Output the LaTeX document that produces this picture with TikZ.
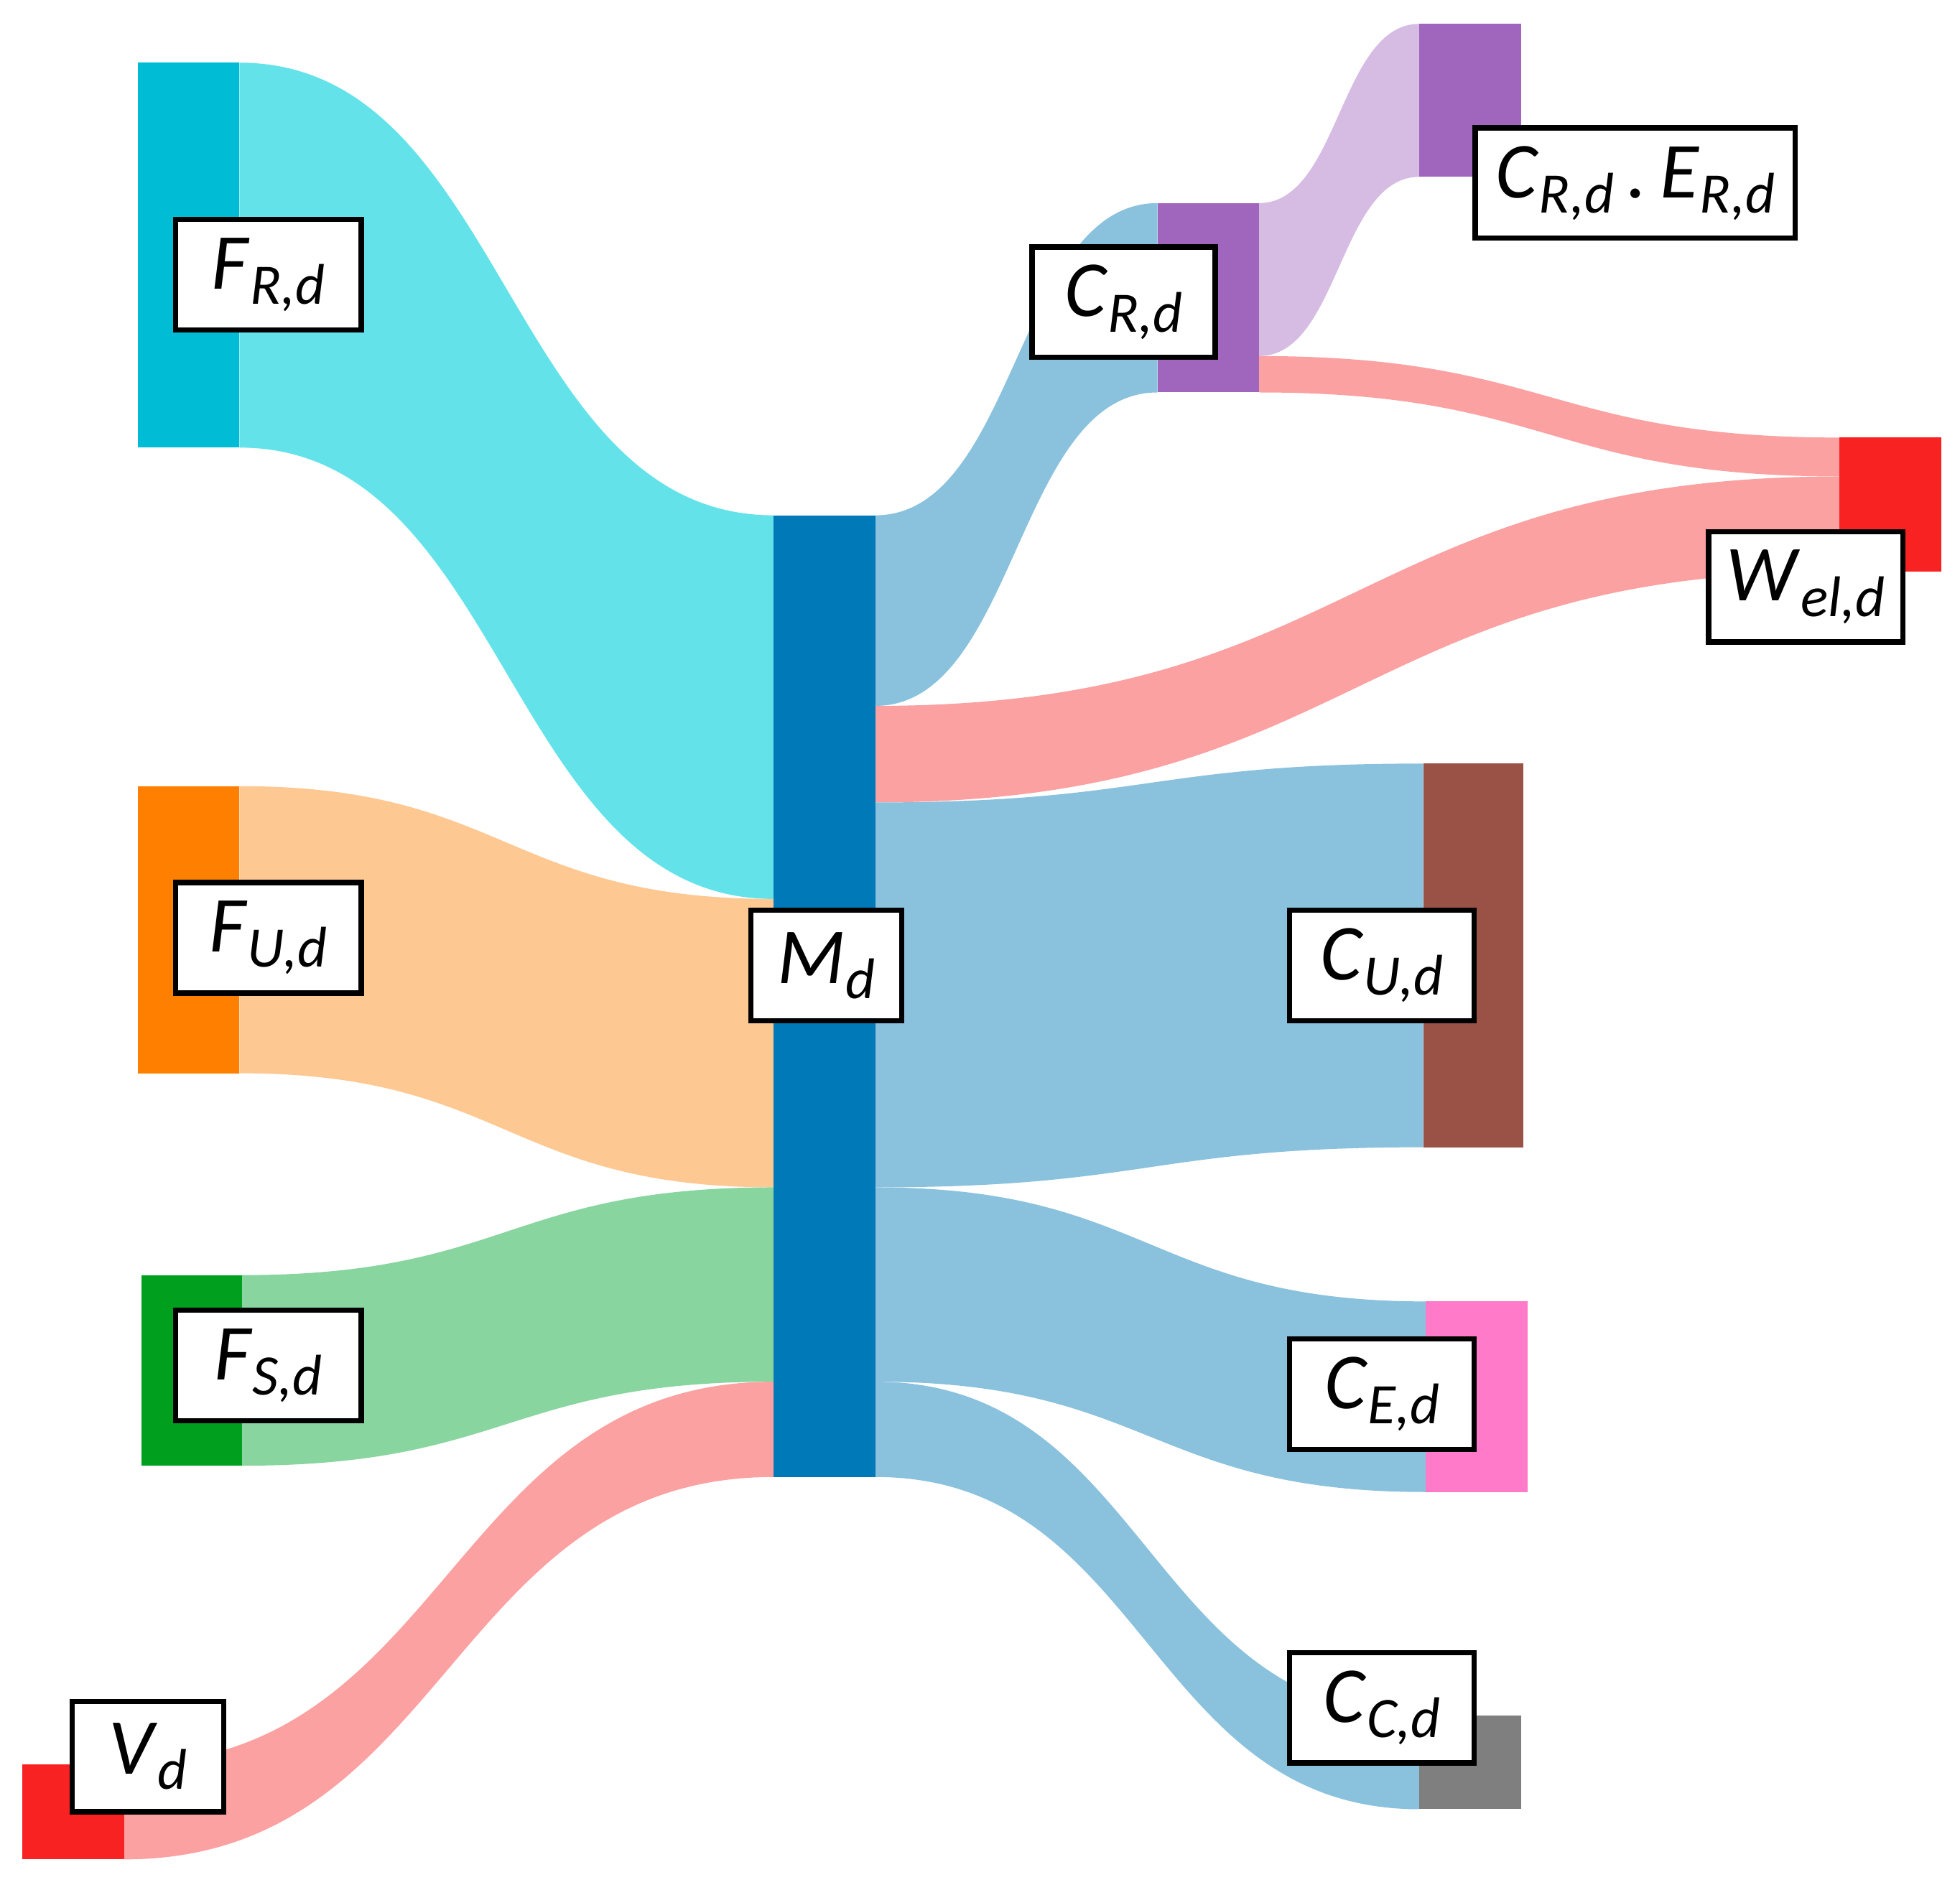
\documentclass[tikz,border=0pt]{standalone}
\usepackage{fontspec}
\setmainfont{Carlito}
\definecolor{cyanbar}{HTML}{00BCD4}\definecolor{cyanflow}{HTML}{63E3E9}
\definecolor{orangebar}{HTML}{FF8000}\definecolor{orangeflow}{HTML}{FEC893}
\definecolor{greenbar}{HTML}{00A01E}\definecolor{greenflow}{HTML}{88D5A0}
\definecolor{redbar}{HTML}{F82222}\definecolor{redflow}{HTML}{FCA1A1}
\definecolor{bluebar}{HTML}{0079B8}\definecolor{blueflow}{HTML}{8AC2DE}
\definecolor{purplebar}{HTML}{A066BE}\definecolor{purpleflow}{HTML}{D6BCE3}
\definecolor{brownbar}{HTML}{9B5246}\definecolor{pinkbar}{HTML}{FF7AC8}
\definecolor{graybar}{HTML}{7F7F7F}
\newcommand{\sflow}[7]{\fill[#1] (#2,#3) .. controls ({(#2+#5)/2},#3) and ({(#2+#5)/2},#6) .. (#5,#6) -- (#5,#7) .. controls ({(#2+#5)/2},#7) and ({(#2+#5)/2},#4) .. (#2,#4) -- cycle;}
\newcommand{\lbl}[2]{\textit{#1}\raisebox{-0.4ex}{\fontsize{13}{13}\selectfont\textit{#2}}}
\tikzset{lab/.style={draw=black, line width=1.2pt, fill=white, minimum width=1.48cm, minimum height=0.88cm, inner sep=0pt, font=\fontsize{18}{20}\selectfont}}
\begin{document}
\begin{tikzpicture}[x=0.01cm,y=-0.01cm]
    \useasboundingbox (0,0) rectangle (1563,1503);
    % flows into M
    \sflow{cyanflow}{191}{50}{357}{617}{411}{717}
    \sflow{orangeflow}{191}{627}{856}{617}{717}{947}
    \sflow{greenflow}{193}{1017}{1169}{617}{947}{1102}
    \sflow{redflow}{99}{1407}{1483}{617}{1102}{1178}
    % flows out of M
    \sflow{blueflow}{698}{411}{563}{923}{162}{313}
    \sflow{redflow}{698}{563}{640}{1467}{380}{456}
    \sflow{blueflow}{698}{640}{947}{1135}{609}{915}
    \sflow{blueflow}{698}{947}{1102}{1137}{1038}{1190}
    \sflow{blueflow}{698}{1102}{1178}{1132}{1368}{1443}
    % flows out of C_R
    \sflow{purpleflow}{1004}{162}{284}{1132}{19}{141}
    \sflow{redflow}{1004}{284}{313}{1467}{349}{380}
    % bars
    \fill[cyanbar] (110,50) rectangle (191,357);
    \fill[orangebar] (110,627) rectangle (191,856);
    \fill[greenbar] (113,1017) rectangle (193,1169);
    \fill[redbar] (18,1407) rectangle (99,1483);
    \fill[bluebar] (617,411) rectangle (698,1178);
    \fill[purplebar] (923,162) rectangle (1004,313);
    \fill[purplebar] (1132,19) rectangle (1213,141);
    \fill[redbar] (1467,349) rectangle (1548,456);
    \fill[brownbar] (1135,609) rectangle (1215,915);
    \fill[pinkbar] (1137,1038) rectangle (1218,1190);
    \fill[graybar] (1132,1368) rectangle (1213,1443);
    % labels
    \node[lab] (FR) at (214,219) {\lbl{F}{R,d}};
    \node[lab] (FU) at (214,748) {\lbl{F}{U,d}};
    \node[lab] (FS) at (214,1089) {\lbl{F}{S,d}};
    \node[lab, minimum width=1.21cm] (V) at (118,1401) {\lbl{V}{d}};
    \node[lab, minimum width=1.2cm] (M) at (659,770) {\lbl{M}{d}};
    \node[lab, minimum width=1.46cm] (CR) at (896,241) {\lbl{C}{R,d}};
    \node[lab, minimum width=2.55cm] (CRE) at (1304,146) {\lbl{C}{R,d}\,\textit{.}\,\lbl{E}{R,d}};
    \node[lab, minimum width=1.55cm] (W) at (1440,468) {\lbl{W}{el,d}};
    \node[lab, minimum width=1.47cm] (CU) at (1102,770) {\lbl{C}{U,d}};
    \node[lab, minimum width=1.47cm] (CE) at (1102,1112) {\lbl{C}{E,d}};
    \node[lab, minimum width=1.47cm] (CC) at (1102,1362) {\lbl{C}{C,d}};
\end{tikzpicture}
\end{document}
